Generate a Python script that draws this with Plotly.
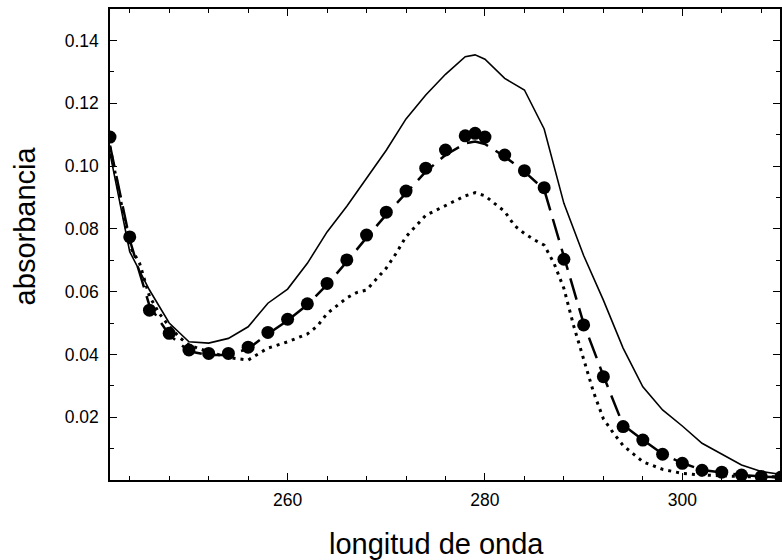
import plotly.graph_objects as go

# ---- data ----
x_pts = [242, 244, 246, 248, 250, 252, 254, 256, 258, 260, 262, 264, 266, 268, 270, 272, 274, 276,
         278, 279, 280, 282, 284, 286, 288, 290, 292, 294, 296, 298, 300, 302, 304, 306, 308, 310]
y_pts = [0.1092, 0.0774, 0.0541, 0.0467, 0.0414, 0.0403, 0.0403, 0.0423, 0.0470, 0.0512, 0.0561,
         0.0626, 0.0701, 0.0780, 0.0853, 0.0920, 0.0993, 0.1051, 0.1096, 0.1104, 0.1092, 0.1035,
         0.0985, 0.0931, 0.0703, 0.0494, 0.0329, 0.0170, 0.0127, 0.0082, 0.0053, 0.0031, 0.0025,
         0.0016, 0.0011, 0.0009]

x_fit = x_pts
y_fit = [0.1065, 0.0765, 0.0555, 0.0462, 0.0410, 0.0398, 0.0398, 0.0418, 0.0465, 0.0508, 0.0558,
         0.0622, 0.0695, 0.0772, 0.0845, 0.0912, 0.0982, 0.1035, 0.1072, 0.1078, 0.1070, 0.1030,
         0.0982, 0.0925, 0.0710, 0.0498, 0.0332, 0.0175, 0.0128, 0.0083, 0.0054, 0.0032, 0.0024,
         0.0016, 0.0011, 0.0009]

x_sol = [242, 244, 246, 248, 250, 252, 254, 256, 258, 260, 262, 264, 266, 268, 270, 272, 274, 276,
         278, 279, 280, 282, 284, 286, 288, 290, 292, 294, 296, 298, 300, 302, 304, 306, 308, 310]
y_sol = [0.1040, 0.0727, 0.0605, 0.0500, 0.0440, 0.0436, 0.0451, 0.0488, 0.0563, 0.0608, 0.0690,
         0.0790, 0.0872, 0.0962, 0.1050, 0.1150, 0.1226, 0.1292, 0.1348, 0.1354, 0.1340, 0.1279,
         0.1242, 0.1118, 0.0881, 0.0715, 0.0573, 0.0420, 0.0297, 0.0223, 0.0172, 0.0117, 0.0082,
         0.0048, 0.0027, 0.0018]

x_dot = [242, 244, 245, 246, 247, 248, 249, 250, 252, 254, 256, 258, 260, 262, 263, 264, 266, 267,
         268, 269, 270, 271, 272, 274, 276, 278, 279, 280, 282, 283, 284, 285, 286, 287, 288, 289,
         290, 291, 292, 293, 294, 295, 296, 298, 300, 302, 304, 306, 308, 310]
y_dot = [0.1060, 0.0745, 0.0690, 0.0585, 0.0530, 0.0490, 0.0455, 0.0430, 0.0408, 0.0390, 0.0382,
         0.0420, 0.0440, 0.0465, 0.0490, 0.0530, 0.0580, 0.0597, 0.0605, 0.0640, 0.0675, 0.0722,
         0.0775, 0.0843, 0.0873, 0.0905, 0.0915, 0.0905, 0.0855, 0.0810, 0.0785, 0.0765, 0.0748,
         0.0690, 0.0610, 0.0490, 0.0385, 0.0280, 0.0195, 0.0150, 0.0110, 0.0085, 0.0058, 0.0034,
         0.0021, 0.0016, 0.0013, 0.0011, 0.0010, 0.0010]

y_tickvals = [0.02, 0.04, 0.06, 0.08, 0.10, 0.12, 0.14]
y_ticktext = ["0.02", "0.04", "0.06", "0.08", "0.10", "0.12", "0.14"]

x_title = "longitud de onda"
y_title = "absorbancia"

FONT = "Liberation Sans, Arial, sans-serif"

fig = go.Figure()
fig.add_trace(go.Scatter(x=x_sol, y=y_sol, mode="lines",
                         line=dict(color="black", width=1.6), showlegend=False))
fig.add_trace(go.Scatter(x=x_dot, y=y_dot, mode="lines",
                         line=dict(color="black", width=3, dash="3px,5px"), showlegend=False))
fig.add_trace(go.Scatter(x=x_fit, y=y_fit, mode="lines",
                         line=dict(color="black", width=2.5, dash="22px,9px"), showlegend=False))
fig.add_trace(go.Scatter(x=x_pts, y=y_pts, mode="markers",
                         marker=dict(color="black", size=13, line=dict(width=0)), showlegend=False))

axis_common = dict(
    showline=True, linecolor="black", linewidth=1.5, mirror="allticks",
    ticks="inside", ticklen=7, tickwidth=1.2, tickcolor="black",
    showgrid=False, zeroline=False,
    tickfont=dict(family=FONT, size=17.5, color="black"),
)

fig.update_xaxes(range=[242, 309.9], tickmode="linear", tick0=0, dtick=20,
                 minor=dict(tickmode="linear", tick0=0, dtick=4, ticks="inside",
                            ticklen=4.5, tickwidth=1.2, tickcolor="black"),
                 ticklabelstandoff=3, **axis_common)
fig.update_yaxes(range=[0, 0.15], tickmode="array", tickvals=y_tickvals, ticktext=y_ticktext,
                 minor=dict(tickmode="linear", tick0=0, dtick=0.01, ticks="inside",
                            ticklen=4.5, tickwidth=1.2, tickcolor="black"),
                 ticklabelstandoff=6, **axis_common)

fig.add_annotation(text=x_title, xref="paper", yref="paper", x=0.487, y=-0.136,
                   xanchor="center", yanchor="middle", showarrow=False,
                   font=dict(family=FONT, size=29, color="black"))
fig.add_annotation(text=y_title, xref="paper", yref="paper", x=-0.1265, y=0.539,
                   xanchor="center", yanchor="middle", showarrow=False, textangle=-90,
                   font=dict(family=FONT, size=29, color="black"))

fig.update_layout(
    width=782, height=560,
    margin=dict(l=110, r=0, t=9, b=80),
    paper_bgcolor="white", plot_bgcolor="white",
    font=dict(family=FONT, color="black"),
)

# remove the browser's default body margin so the figure sits at the page origin
fig.write_html("out.html",
               config={"displayModeBar": False},
               post_script="document.body.style.margin='0';document.body.style.overflow='hidden';")
